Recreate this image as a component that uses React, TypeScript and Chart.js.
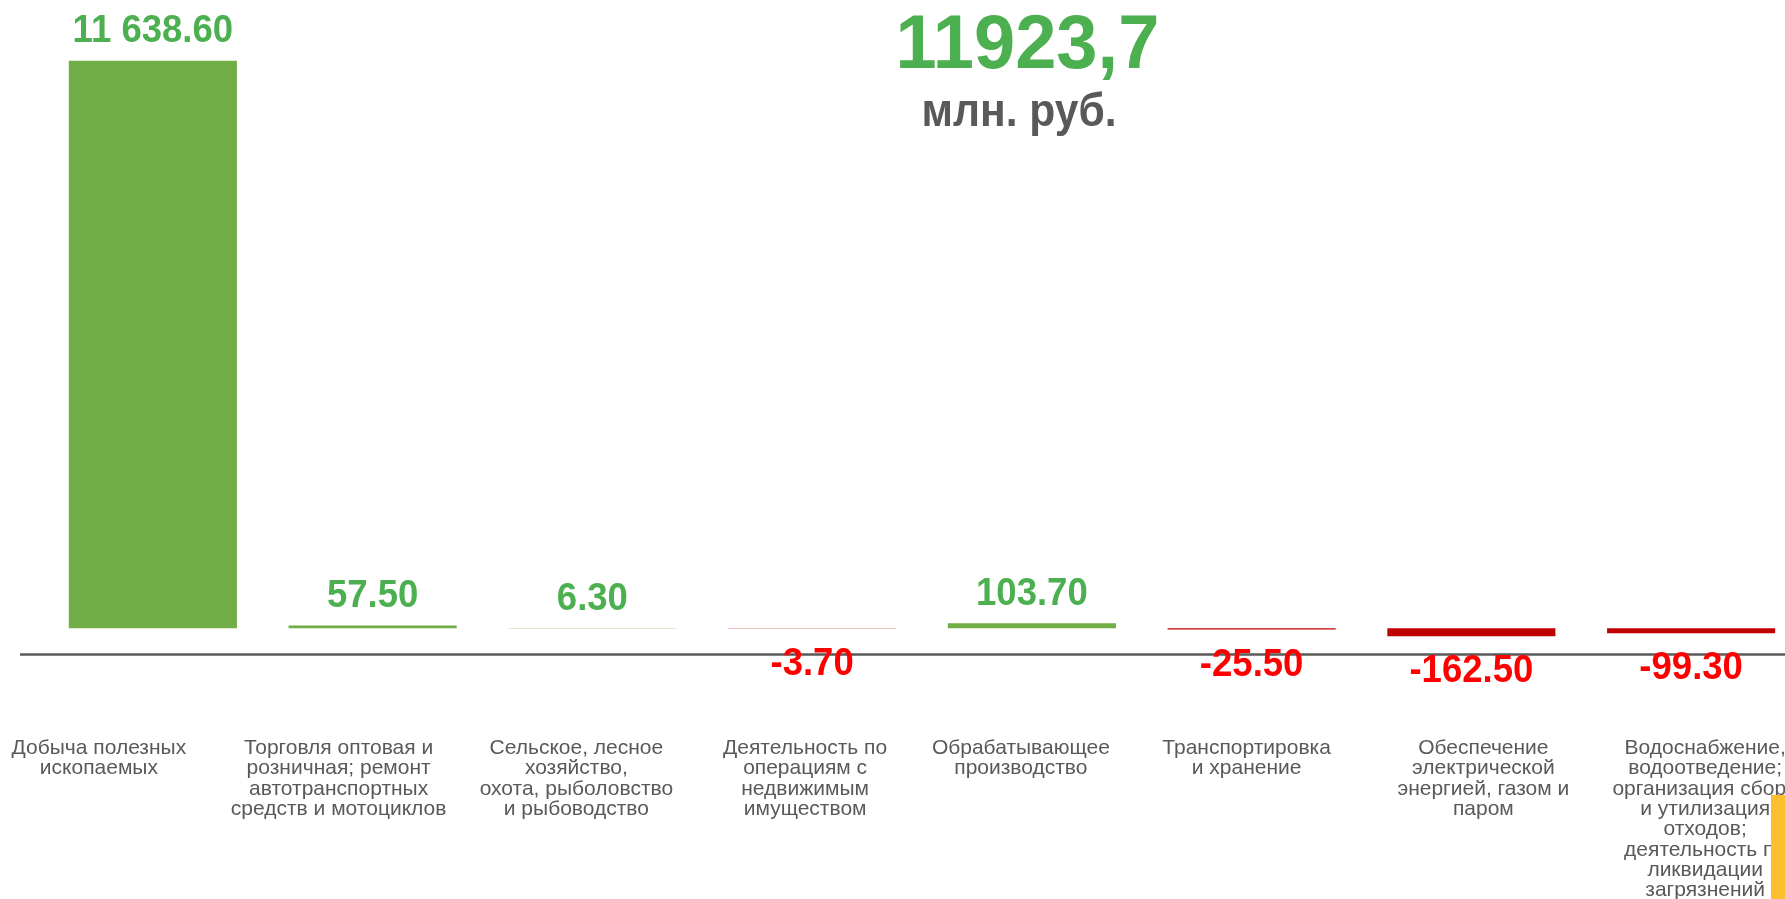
import React, { useEffect, useRef } from "react";
import { Chart, registerables } from "chart.js";

Chart.register(...registerables);

// ---- data ----
const categories: string[][] = [
  ["Добыча полезных", "ископаемых"],
  ["Торговля оптовая и", "розничная; ремонт", "автотранспортных", "средств и мотоциклов"],
  ["Сельское, лесное", "хозяйство,", "охота, рыболовство", "и рыбоводство"],
  ["Деятельность по", "операциям с", "недвижимым", "имуществом"],
  ["Обрабатывающее", "производство"],
  ["Транспортировка", "и хранение"],
  ["Обеспечение", "электрической", "энергией, газом и", "паром"],
  [
    "Водоснабжение,",
    "водоотведение;",
    "организация сбора",
    "и утилизация",
    "отходов;",
    "деятельность по",
    "ликвидации",
    "загрязнений",
  ],
];
const values: number[] = [11638.6, 57.5, 6.3, -3.7, 103.7, -25.5, -162.5, -99.3];
const totalLabel = "11923,7";
const unitLabel = "млн. руб.";
const yMin = -546;
const yMax = 12000;

// ---- styling ----
const FONT = '"Liberation Sans", Arial, sans-serif';
const GREEN_BAR = "#70AD47";
const GREEN_TEXT = "#4CAF50";
const RED_BAR = "#C00000";
const RED_TEXT = "#FF0000";
const GRAY = "#595959";
const labelShift = [-54, -34, -16, -7, -11, -5, 12, 14];

function fmt(v: number): string {
  const s = Math.abs(v).toFixed(2);
  const [ip, dp] = s.split(".");
  const withSpaces = ip.replace(/\B(?=(\d{3})+(?!\d))/g, " ");
  return (v < 0 ? "-" : "") + withSpaces + "." + dp;
}

function drawText(
  ctx: CanvasRenderingContext2D,
  text: string,
  x: number,
  y: number,
  font: string,
  color: string,
  sx: number
) {
  ctx.save();
  ctx.translate(x, y);
  ctx.scale(sx, 1);
  ctx.font = font;
  ctx.fillStyle = color;
  ctx.textAlign = "center";
  ctx.textBaseline = "alphabetic";
  ctx.fillText(text, 0, 0);
  ctx.restore();
}

const overlayPlugin = {
  id: "overlay",
  afterDatasetsDraw(chart: any) {
    const { ctx, chartArea } = chart;
    const xs = chart.scales.x;
    const meta = chart.getDatasetMeta(0);
    ctx.save();

    // baseline axis line
    ctx.strokeStyle = GRAY;
    ctx.lineWidth = 2.5;
    ctx.beginPath();
    ctx.moveTo(chartArea.left - 23, chartArea.bottom - 0.5);
    ctx.lineTo(chart.width, chartArea.bottom - 0.5);
    ctx.stroke();

    // value labels
    meta.data.forEach((bar: any, i: number) => {
      const v = values[i];
      const p = bar.getProps(["x", "y", "base"], true);
      const top = Math.min(p.y, p.base);
      const bottom = Math.max(p.y, p.base);
      const ty = v >= 0 ? top - 18.5 : bottom + 46;
      drawText(ctx, fmt(v), p.x, ty, `bold 39.5px ${FONT}`, v >= 0 ? GREEN_TEXT : RED_TEXT, 0.925);
    });

    // category labels
    categories.forEach((lines, i) => {
      const cx = xs.getPixelForValue(i) + labelShift[i];
      lines.forEach((line, j) => {
        drawText(ctx, line, cx, chartArea.bottom + 99 + j * 20.3, `21px ${FONT}`, GRAY, 1);
      });
    });

    // headline
    const w = chartArea.right - chartArea.left;
    drawText(ctx, totalLabel, chartArea.left + 0.56 * w, chartArea.top + 25, `bold 76px ${FONT}`, GREEN_TEXT, 0.975);
    drawText(ctx, unitLabel, chartArea.left + 0.5552 * w, chartArea.top + 83, `bold 47px ${FONT}`, GRAY, 0.905);

    ctx.restore();
  },
};

export default function App() {
  const ref = useRef<HTMLCanvasElement | null>(null);

  useEffect(() => {
    document.body.style.margin = "0";
    if (!ref.current) return;
    const chart = new Chart(ref.current, {
      type: "bar",
      data: {
        labels: categories.map((c) => c.join(" ")),
        datasets: [
          {
            data: values,
            backgroundColor: values.map((v) => (v >= 0 ? GREEN_BAR : RED_BAR)),
            barPercentage: 0.765,
            categoryPercentage: 1,
            borderWidth: 0,
          },
        ],
      },
      options: {
        animation: false,
        responsive: false,
        maintainAspectRatio: false,
        layout: { padding: { left: 43, right: 29, top: 43, bottom: 244 } },
        plugins: {
          legend: { display: false },
          tooltip: { enabled: false },
          title: { display: false },
        },
        scales: {
          x: { display: false },
          y: { display: false, min: yMin, max: yMax },
        },
      },
      plugins: [overlayPlugin],
    });
    return () => chart.destroy();
  }, []);

  return (
    <div style={{ position: "relative", width: 1785, height: 899, overflow: "hidden", background: "#ffffff" }}>
      <canvas ref={ref} width={1830} height={899} style={{ display: "block" }} />
      <div
        style={{
          position: "absolute",
          left: 1771,
          top: 795,
          width: 14,
          height: 104,
          background: "#FBBF2D",
        }}
      />
    </div>
  );
}
